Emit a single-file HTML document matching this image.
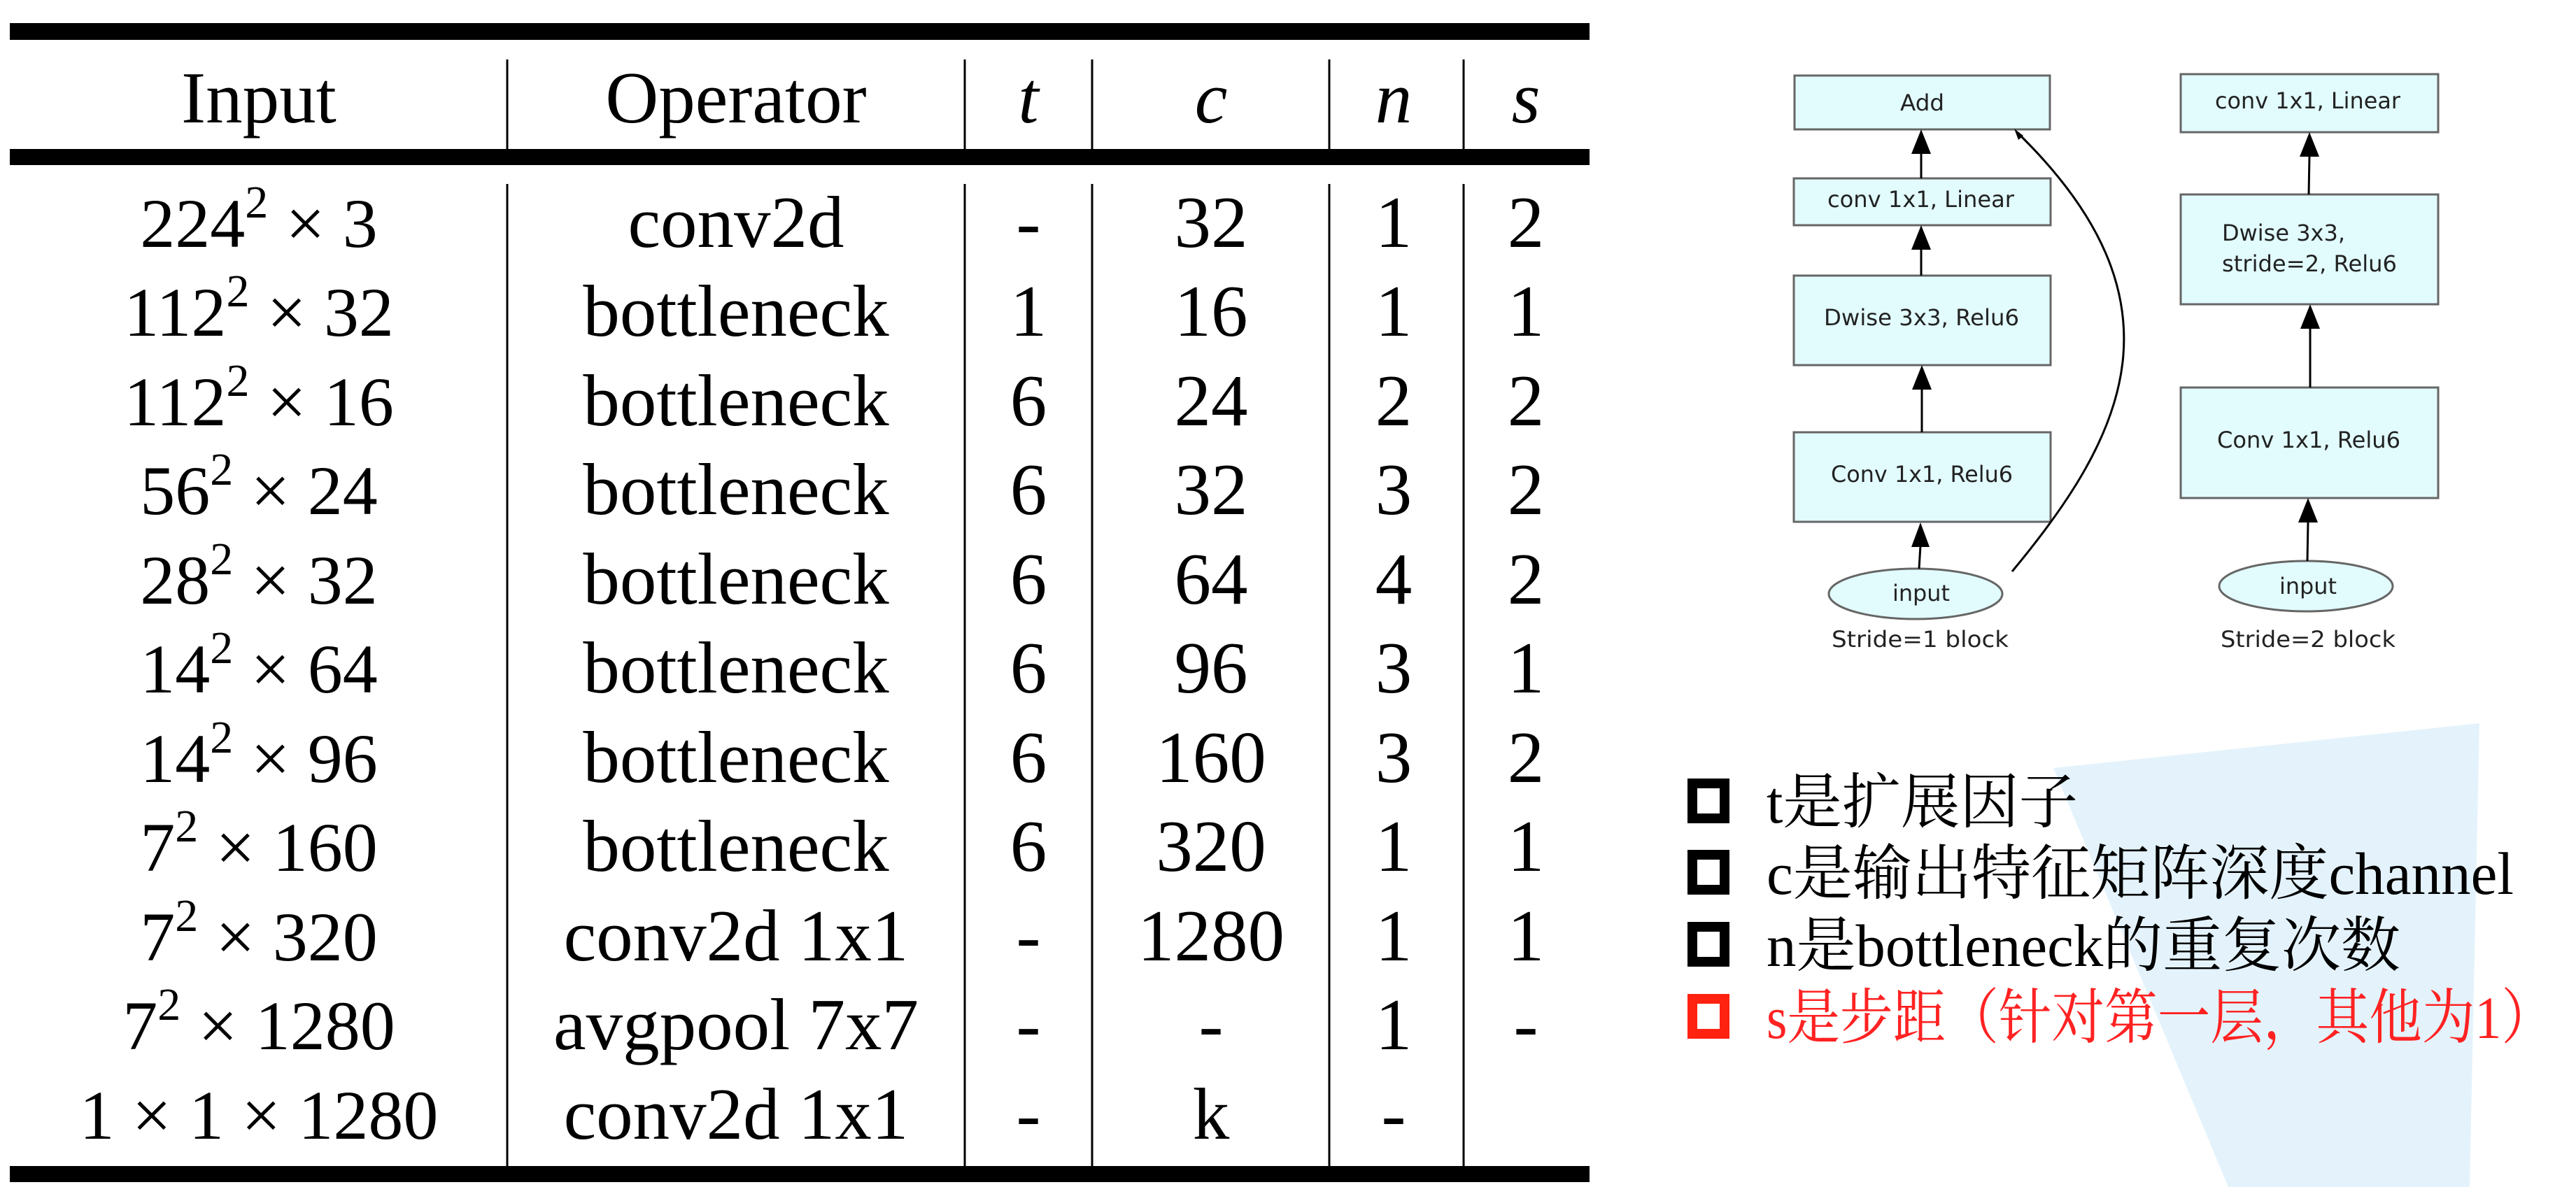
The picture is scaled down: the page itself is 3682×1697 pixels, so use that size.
<!DOCTYPE html>
<html><head><meta charset="utf-8"><style>
html,body{margin:0;padding:0;background:#fff;}
svg{display:block}
</style></head><body>
<svg width="3682" height="1697" viewBox="0 0 3682 1697" xmlns="http://www.w3.org/2000/svg">
<rect width="3682" height="1697" fill="#fff"/>
<polygon points="2935,1098 3544,1034 3530,1697 3185,1697" fill="#e4f3fb"/>

<rect x="14" y="33" width="2258" height="24" fill="#000"/>
<rect x="14" y="213" width="2258" height="23" fill="#000"/>
<rect x="14" y="1667" width="2258" height="23" fill="#000"/>
<g stroke="#000" stroke-width="3">
<line x1="725" y1="85" x2="725" y2="213"/><line x1="1379" y1="85" x2="1379" y2="213"/>
<line x1="1561" y1="85" x2="1561" y2="213"/><line x1="1900" y1="85" x2="1900" y2="213"/>
<line x1="2092" y1="85" x2="2092" y2="213"/>
<line x1="725" y1="263" x2="725" y2="1667"/><line x1="1379" y1="263" x2="1379" y2="1667"/>
<line x1="1561" y1="263" x2="1561" y2="1667"/><line x1="1900" y1="263" x2="1900" y2="1667"/>
<line x1="2092" y1="263" x2="2092" y2="1667"/>
</g>
<g font-family="Liberation Serif, serif" font-size="105" text-anchor="middle" fill="#000">
<text x="370" y="175">Input</text>
<text x="1052" y="175">Operator</text>
<text x="1470" y="175" font-style="italic">t</text>
<text x="1731" y="175" font-style="italic">c</text>
<text x="1992" y="175" font-style="italic">n</text>
<text x="2181" y="175" font-style="italic">s</text>
</g>
<g font-family="Liberation Serif, serif" font-size="100" text-anchor="middle" fill="#000">
<text x="370" y="353">224<tspan font-size="66" dy="-42">2</tspan><tspan dy="42"> × 3</tspan></text>
<text x="370" y="480">112<tspan font-size="66" dy="-42">2</tspan><tspan dy="42"> × 32</tspan></text>
<text x="370" y="608">112<tspan font-size="66" dy="-42">2</tspan><tspan dy="42"> × 16</tspan></text>
<text x="370" y="735">56<tspan font-size="66" dy="-42">2</tspan><tspan dy="42"> × 24</tspan></text>
<text x="370" y="863">28<tspan font-size="66" dy="-42">2</tspan><tspan dy="42"> × 32</tspan></text>
<text x="370" y="990">14<tspan font-size="66" dy="-42">2</tspan><tspan dy="42"> × 64</tspan></text>
<text x="370" y="1118">14<tspan font-size="66" dy="-42">2</tspan><tspan dy="42"> × 96</tspan></text>
<text x="370" y="1245">7<tspan font-size="66" dy="-42">2</tspan><tspan dy="42"> × 160</tspan></text>
<text x="370" y="1373">7<tspan font-size="66" dy="-42">2</tspan><tspan dy="42"> × 320</tspan></text>
<text x="370" y="1500">7<tspan font-size="66" dy="-42">2</tspan><tspan dy="42"> × 1280</tspan></text>
<text x="370" y="1628">1 × 1 × 1280</text>
</g>
<g font-family="Liberation Serif, serif" font-size="105" text-anchor="middle" fill="#000">
<text x="1052" y="353">conv2d</text><text x="1470" y="353">-</text><text x="1731" y="353">32</text><text x="1992" y="353">1</text><text x="2181" y="353">2</text>
<text x="1052" y="480">bottleneck</text><text x="1470" y="480">1</text><text x="1731" y="480">16</text><text x="1992" y="480">1</text><text x="2181" y="480">1</text>
<text x="1052" y="608">bottleneck</text><text x="1470" y="608">6</text><text x="1731" y="608">24</text><text x="1992" y="608">2</text><text x="2181" y="608">2</text>
<text x="1052" y="735">bottleneck</text><text x="1470" y="735">6</text><text x="1731" y="735">32</text><text x="1992" y="735">3</text><text x="2181" y="735">2</text>
<text x="1052" y="863">bottleneck</text><text x="1470" y="863">6</text><text x="1731" y="863">64</text><text x="1992" y="863">4</text><text x="2181" y="863">2</text>
<text x="1052" y="990">bottleneck</text><text x="1470" y="990">6</text><text x="1731" y="990">96</text><text x="1992" y="990">3</text><text x="2181" y="990">1</text>
<text x="1052" y="1118">bottleneck</text><text x="1470" y="1118">6</text><text x="1731" y="1118">160</text><text x="1992" y="1118">3</text><text x="2181" y="1118">2</text>
<text x="1052" y="1245">bottleneck</text><text x="1470" y="1245">6</text><text x="1731" y="1245">320</text><text x="1992" y="1245">1</text><text x="2181" y="1245">1</text>
<text x="1052" y="1373">conv2d 1x1</text><text x="1470" y="1373">-</text><text x="1731" y="1373">1280</text><text x="1992" y="1373">1</text><text x="2181" y="1373">1</text>
<text x="1052" y="1500">avgpool 7x7</text><text x="1470" y="1500">-</text><text x="1731" y="1500">-</text><text x="1992" y="1500">1</text><text x="2181" y="1500">-</text>
<text x="1052" y="1628">conv2d 1x1</text><text x="1470" y="1628">-</text><text x="1731" y="1628">k</text><text x="1992" y="1628">-</text>
</g>

<g fill="#e2fbfd" stroke="#666" stroke-width="3">
<rect x="2565" y="108" width="365" height="77"/>
<rect x="2564" y="255" width="367" height="67"/>
<rect x="2564" y="394" width="367" height="128"/>
<rect x="2564" y="618" width="367" height="128"/>
<ellipse cx="2738" cy="849" rx="124" ry="36"/>
<rect x="3117" y="106" width="368" height="83"/>
<rect x="3117" y="278" width="368" height="157"/>
<rect x="3117" y="554" width="368" height="158"/>
<ellipse cx="3296" cy="838" rx="124" ry="36"/>
</g>
<g stroke="#000" stroke-width="3" fill="none">
<line x1="2743" y1="813" x2="2745" y2="780"/>
<line x1="2747" y1="618" x2="2747" y2="555"/>
<line x1="2746" y1="394" x2="2746" y2="355"/>
<line x1="2746" y1="255" x2="2746" y2="218"/>
<line x1="3298" y1="802" x2="3299" y2="745"/>
<line x1="3302" y1="554" x2="3302" y2="468"/>
<line x1="3300" y1="278" x2="3301" y2="222"/>
<path d="M2876 817 C 3040 620, 3130 430, 2884 190"/>
</g>
<g fill="#000">
<polygon points="2745,747 2732,782 2758,782"/>
<polygon points="2747,522 2733,557 2761,557"/>
<polygon points="2746,322 2732,357 2760,357"/>
<polygon points="2746,185 2732,220 2760,220"/>
<polygon points="3299,712 3285,747 3313,747"/>
<polygon points="3302,435 3288,470 3316,470"/>
<polygon points="3301,189 3287,224 3315,224"/>
<polygon points="2879,184 2885,200 2892,194"/>
</g>
<g font-family="DejaVu Sans, sans-serif" font-size="32" fill="#222" dominant-baseline="central">
<text x="2716" y="147" textLength="63" lengthAdjust="spacingAndGlyphs">Add</text>
<text x="2612" y="285" textLength="267" lengthAdjust="spacingAndGlyphs">conv 1x1, Linear</text>
<text x="2607" y="454" textLength="279" lengthAdjust="spacingAndGlyphs">Dwise 3x3, Relu6</text>
<text x="2617" y="678" textLength="260" lengthAdjust="spacingAndGlyphs">Conv 1x1, Relu6</text>
<text x="2705" y="848" textLength="82" lengthAdjust="spacingAndGlyphs">input</text>
<text x="2618" y="914" textLength="253" lengthAdjust="spacingAndGlyphs">Stride=1 block</text>
<text x="3166" y="144" textLength="265" lengthAdjust="spacingAndGlyphs">conv 1x1, Linear</text>
<text x="3176" y="333" textLength="176" lengthAdjust="spacingAndGlyphs">Dwise 3x3,</text>
<text x="3176" y="377" textLength="250" lengthAdjust="spacingAndGlyphs">stride=2, Relu6</text>
<text x="3169" y="629" textLength="262" lengthAdjust="spacingAndGlyphs">Conv 1x1, Relu6</text>
<text x="3258" y="838" textLength="82" lengthAdjust="spacingAndGlyphs">input</text>
<text x="3174" y="914" textLength="250" lengthAdjust="spacingAndGlyphs">Stride=2 block</text>
</g>

<g fill="none" stroke-width="14">
<rect x="2419" y="1120" width="46" height="50" stroke="#000"/>
<rect x="2419" y="1222" width="46" height="50" stroke="#000"/>
<rect x="2419" y="1325" width="46" height="50" stroke="#000"/>
<rect x="2419" y="1428" width="46" height="50" stroke="#f21"/>
</g>
<g font-family="Liberation Serif, 'Noto Serif CJK SC', serif" font-size="86" fill="#000">
<text x="2525" y="1176" textLength="445" lengthAdjust="spacingAndGlyphs">t是扩展因子</text>
<text x="2525" y="1278" textLength="1068" lengthAdjust="spacingAndGlyphs">c是输出特征矩阵深度channel</text>
<text x="2525" y="1381" textLength="906" lengthAdjust="spacingAndGlyphs">n是bottleneck的重复次数</text>
<text x="2525" y="1484" fill="#f22" textLength="1126" lengthAdjust="spacingAndGlyphs">s是步距（针对第一层，其他为1）</text>
</g>
</svg>
</body></html>
